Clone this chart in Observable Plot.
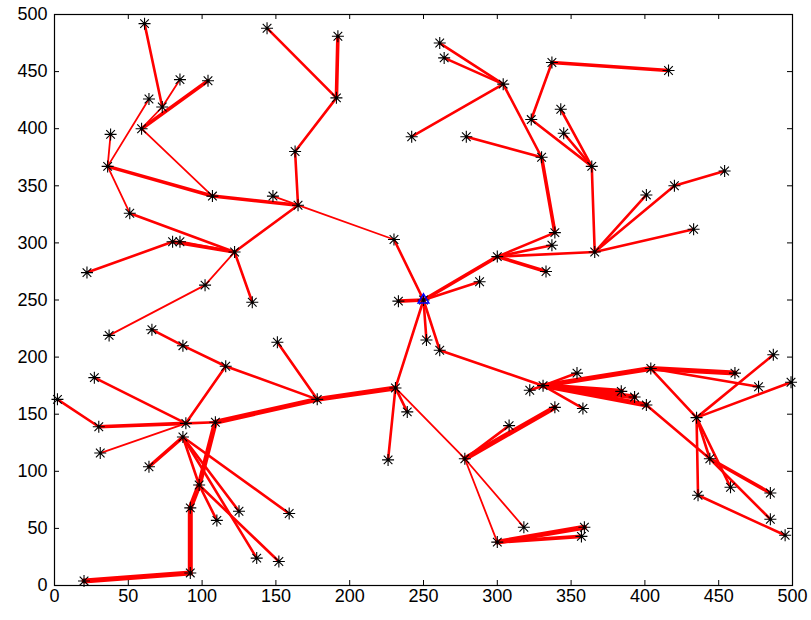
<!DOCTYPE html>
<html>
<head>
<meta charset="utf-8">
<script src="https://cdn.jsdelivr.net/npm/d3@7"></script>
<script src="https://cdn.jsdelivr.net/npm/@observablehq/plot@0.6"></script>
<style>
  body { margin: 0; background: #fff; }
  svg { display: block; }
</style>
</head>
<body>
<div id="chart"></div>
<script>
// Tree nodes: [id, x, y]
const nodes = [
  ["root", 250, 250],
  // upper-left branch
  ["a1", 61, 492], ["a2", 73, 419], ["a3", 85, 443], ["a4", 104, 442], ["a5", 64, 426],
  ["a6", 59, 400], ["a7", 38, 395], ["a8", 36, 367], ["a9", 107, 341], ["a10", 148, 341],
  ["a11", 165, 333], ["a12", 51, 326], ["a13", 122, 292], ["a14", 80, 301], ["a15", 85, 301],
  ["a16", 22, 274], ["a17", 102, 263], ["a18", 37, 219], ["a19", 134, 248], ["a20", 163, 380],
  ["a21", 191, 427], ["a22", 144, 488], ["a23", 192, 481], ["a24", 230, 303], ["a25", 233, 249],
  // upper-right branch
  ["b1", 242, 393], ["b2", 304, 439], ["b3", 261, 475], ["b4", 264, 462], ["b5", 279, 393],
  ["b6", 330, 375], ["b7", 339, 309], ["b8", 337, 298], ["b9", 300, 288], ["b10", 288, 266],
  ["b11", 333, 275], ["b12", 366, 292], ["b13", 364, 367], ["b14", 323, 408], ["b15", 337, 458],
  ["b16", 416, 451], ["b17", 343, 417], ["b18", 345, 396], ["b19", 401, 342], ["b20", 420, 350],
  ["b21", 454, 363], ["b22", 433, 312],
  // lower-right branch
  ["c1", 252, 215], ["c2", 261, 206], ["c3", 331, 175], ["c4", 322, 171], ["c5", 354, 186],
  ["c6", 339, 156], ["c7", 358, 155], ["c8", 384, 170], ["c9", 393, 165], ["c10", 401, 158],
  ["c11", 404, 190], ["c12", 461, 186], ["c13", 477, 174], ["c14", 487, 202], ["c15", 499, 178],
  ["c16", 435, 147], ["c17", 444, 111], ["c18", 458, 86], ["c19", 485, 81], ["c20", 436, 79],
  ["c21", 485, 58], ["c22", 495, 44],
  // lower-middle branch
  ["d1", 231, 173], ["d2", 239, 152], ["d3", 226, 110], ["d4", 178, 163], ["d5", 151, 213],
  ["d6", 278, 111], ["d7", 308, 140], ["d8", 318, 51], ["d9", 300, 38], ["d10", 359, 51],
  ["d11", 357, 43],
  // lower-left branch
  ["e1", 116, 192], ["e2", 87, 210], ["e3", 66, 224], ["e4", 27, 182], ["e5", 2, 163],
  ["e6", 30, 139], ["e7", 31, 116], ["e8", 64, 104], ["e9", 89, 142], ["e10", 109, 143],
  ["e11", 87, 130], ["e12", 98, 88], ["e13", 92, 68], ["e14", 110, 57], ["e15", 92, 11],
  ["e16", 20, 4], ["e17", 125, 65], ["e18", 159, 63], ["e19", 137, 24], ["e20", 152, 21]
];

// Tree edges: [from, to, weight]
const edges = [
  ["a1", "a2", 2], ["a3", "a2", 1], ["a2", "a6", 1], ["a4", "a6", 3], ["a5", "a8", 1],
  ["a7", "a8", 1], ["a8", "a9", 3], ["a6", "a9", 1], ["a9", "a11", 3], ["a10", "a11", 1],
  ["a8", "a12", 1], ["a12", "a13", 2], ["a14", "a13", 3], ["a15", "a13", 2], ["a16", "a14", 2],
  ["a18", "a17", 1], ["a17", "a13", 1], ["a19", "a13", 2], ["a13", "a11", 2], ["a11", "a20", 2],
  ["a20", "a21", 2], ["a22", "a21", 2], ["a23", "a21", 3], ["a11", "a24", 1], ["a24", "root", 2],
  ["a25", "root", 3],
  ["b1", "b2", 2], ["b3", "b2", 2], ["b4", "b2", 2], ["b2", "b6", 2], ["b5", "b6", 2],
  ["b6", "b7", 3], ["b7", "b9", 2], ["b8", "b9", 2], ["b9", "root", 3], ["b10", "root", 2],
  ["b11", "b9", 3], ["b12", "b9", 2], ["b13", "b12", 2], ["b14", "b13", 2], ["b15", "b14", 2],
  ["b16", "b15", 3], ["b17", "b13", 2], ["b18", "b13", 2], ["b19", "b12", 2], ["b20", "b12", 2],
  ["b21", "b20", 2], ["b22", "b12", 2],
  ["c1", "root", 2], ["c2", "root", 2], ["c2", "c3", 2], ["c4", "c3", 2], ["c5", "c3", 2],
  ["c7", "c3", 2], ["c8", "c3", 4], ["c9", "c3", 4], ["c10", "c3", 4], ["c11", "c3", 4],
  ["c12", "c11", 4], ["c13", "c11", 2], ["c16", "c11", 2], ["c14", "c16", 2], ["c15", "c16", 2],
  ["c17", "c10", 2], ["c19", "c17", 3], ["c21", "c17", 2], ["c18", "c16", 2], ["c20", "c16", 2],
  ["c22", "c20", 2], ["c17", "c16", 2],
  ["d1", "root", 2], ["d2", "d1", 2], ["d3", "d1", 2], ["d4", "d1", 4], ["d5", "d4", 2],
  ["d6", "d1", 1], ["d6", "c6", 4], ["d7", "d6", 2], ["d8", "d6", 1], ["d9", "d6", 1],
  ["d10", "d9", 4], ["d11", "d9", 3],
  ["e3", "e2", 2], ["e2", "e1", 2], ["e1", "d4", 2], ["e1", "e9", 2], ["e4", "e9", 2],
  ["e5", "e6", 2], ["e6", "e9", 3], ["e7", "e9", 1], ["e8", "e11", 3], ["e9", "e10", 2],
  ["e10", "d4", 4], ["e10", "e12", 4], ["e12", "e13", 4], ["e13", "e15", 4], ["e15", "e16", 4],
  ["e11", "e12", 2], ["e12", "e14", 2], ["e11", "e17", 2], ["e11", "e19", 2], ["e12", "e20", 2],
  ["e11", "e18", 2]
];

const xTicks = [0, 50, 100, 150, 200, 250, 300, 350, 400, 450, 500];
const yTicks = [0, 50, 100, 150, 200, 250, 300, 350, 400, 450, 500];

const pos = new Map(nodes.map(([id, x, y]) => [id, {x, y}]));
const links = edges.map(([s, t, w]) => ({
  x1: pos.get(s).x, y1: pos.get(s).y, x2: pos.get(t).x, y2: pos.get(t).y, w
}));
const points = nodes.map(([id, x, y]) => ({id, x, y}));
const rootPoint = points.filter(d => d.id === "root");

// eight-spoke star marker
const star = {
  draw(context, size) {
    const r = Math.sqrt(size / Math.PI);
    const q = r * 0.72;
    context.moveTo(-r, 0); context.lineTo(r, 0);
    context.moveTo(0, -r); context.lineTo(0, r);
    context.moveTo(-q, -q); context.lineTo(q, q);
    context.moveTo(-q, q); context.lineTo(q, -q);
  }
};

const W = 811, H = 620;
const mL = 54, mR = 19, mT = 14, mB = 35;
const innerW = W - mL - mR, innerH = H - mT - mB;
const tickLen = 5;

const chart = Plot.plot({
  width: W,
  height: H,
  marginLeft: mL,
  marginRight: mR,
  marginTop: mT,
  marginBottom: mB,
  x: {domain: [0, 500]},
  y: {domain: [0, 500]},
  style: {fontFamily: "'Liberation Sans', Arial, sans-serif", fontSize: "18px", color: "#000", background: "#fff"},
  marks: [
    Plot.link(links, {
      x1: "x1", y1: "y1", x2: "x2", y2: "y2",
      stroke: "#f00",
      strokeWidth: d => d.w === 1 ? 1.8 : d.w === 2 ? 2.6 : d.w === 3 ? 3.6 : 5,
      strokeLinecap: "round"
    }),
    Plot.dot(points, {x: "x", y: "y", symbol: star, r: 6, stroke: "#000", strokeWidth: 1.1}),
    Plot.dot(rootPoint, {x: "x", y: "y", symbol: "triangle", r: 4, stroke: "#00f", strokeWidth: 1.5}),
    Plot.frame({stroke: "#000", strokeWidth: 1.2}),
    Plot.tickX(xTicks, {x: d => d, insetTop: innerH - tickLen, stroke: "#000"}),
    Plot.tickX(xTicks, {x: d => d, insetBottom: innerH - tickLen, stroke: "#000"}),
    Plot.tickY(yTicks, {y: d => d, insetLeft: innerW - tickLen, stroke: "#000"}),
    Plot.tickY(yTicks, {y: d => d, insetRight: innerW - tickLen, stroke: "#000"}),
    Plot.axisX(xTicks, {anchor: "bottom", tickSize: 0, tickPadding: 4, label: null}),
    Plot.axisY(yTicks, {anchor: "left", tickSize: 0, tickPadding: 7, label: null})
  ]
});

document.getElementById("chart").appendChild(chart);
</script>
</body>
</html>
